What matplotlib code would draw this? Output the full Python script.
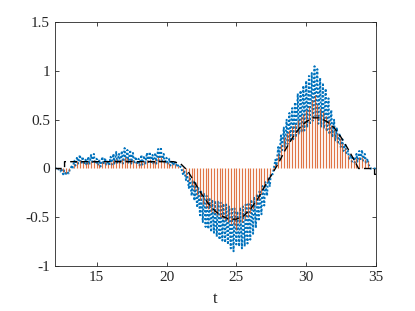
import numpy as np
import matplotlib
matplotlib.use("Agg")
import matplotlib.pyplot as plt

plt.rcParams['font.family'] = ['Liberation Serif', 'DejaVu Serif']
plt.rcParams['axes.unicode_minus'] = False

# sample times (0.2 spacing)
t = np.round(np.arange(12.0, 35.0001, 0.2), 2)

# stem values
stem_vals = [
    0.0, -0.01, -0.02, -0.04, -0.05, -0.03, 0.01, 0.05, 0.08, 0.09,
    0.08, 0.06, 0.07, 0.08, 0.09, 0.06, 0.05, 0.07, 0.07, 0.05,
    0.07, 0.09, 0.10, 0.09, 0.10, 0.12, 0.11, 0.10, 0.09, 0.07,
    0.06, 0.08, 0.08, 0.09, 0.10, 0.08, 0.10, 0.12, 0.12, 0.09,
    0.07, 0.06, 0.05, 0.05, 0.03, 0.01, -0.04, -0.08, -0.13, -0.17,
    -0.22, -0.27, -0.32, -0.36, -0.40, -0.42, -0.45, -0.46, -0.48, -0.50,
    -0.51, -0.53, -0.55, -0.57, -0.58, -0.63, -0.56, -0.55, -0.52, -0.50,
    -0.46, -0.42, -0.37, -0.32, -0.26, -0.20, -0.14, -0.07, -0.02, 0.05,
    0.15, 0.25, 0.32, 0.36, 0.40, 0.44, 0.46, 0.50, 0.53, 0.56,
    0.60, 0.64, 0.70, 0.75, 0.66, 0.62, 0.58, 0.54, 0.50, 0.45,
    0.40, 0.36, 0.31, 0.26, 0.21, 0.14, 0.10, 0.09, 0.11, 0.12,
    0.12, 0.10, 0.08, 0.0, 0.0, 0.0,
]

# blue oscillating estimate: outer and inner extremes
blue_outer = [
    0.0, 0.01, -0.03, -0.06, -0.07, -0.05, 0.02, 0.08, 0.12, 0.14,
    0.12, 0.09, 0.12, 0.14, 0.15, 0.10, 0.09, 0.12, 0.11, 0.08,
    0.12, 0.15, 0.17, 0.15, 0.18, 0.21, 0.19, 0.19, 0.16, 0.12,
    0.10, 0.14, 0.13, 0.16, 0.17, 0.14, 0.16, 0.20, 0.22, 0.15,
    0.11, 0.10, 0.08, 0.07, 0.05, 0.02, -0.07, -0.12, -0.20, -0.28,
    -0.33, -0.40, -0.48, -0.55, -0.60, -0.62, -0.65, -0.66, -0.70, -0.73,
    -0.74, -0.76, -0.78, -0.82, -0.85, -0.78, -0.80, -0.82, -0.80, -0.77,
    -0.73, -0.67, -0.61, -0.54, -0.47, -0.38, -0.28, -0.18, -0.06, 0.09,
    0.22, 0.34, 0.42, 0.50, 0.57, 0.62, 0.68, 0.77, 0.80, 0.85,
    0.90, 0.95, 0.98, 1.05, 1.02, 0.93, 0.88, 0.82, 0.72, 0.60,
    0.50, 0.42, 0.36, 0.30, 0.25, 0.18, 0.14, 0.12, 0.15, 0.18,
    0.19, 0.15, 0.10, 0.0, 0.0, 0.0,
]
blue_inner = [
    0.0, -0.01, 0.0, -0.02, -0.03, -0.01, 0.0, 0.03, 0.05, 0.05,
    0.04, 0.03, 0.04, 0.05, 0.05, 0.03, 0.02, 0.04, 0.04, 0.03,
    0.04, 0.05, 0.05, 0.05, 0.05, 0.06, 0.06, 0.05, 0.05, 0.04,
    0.03, 0.04, 0.04, 0.05, 0.05, 0.04, 0.05, 0.06, 0.06, 0.05,
    0.04, 0.03, 0.03, 0.03, 0.01, 0.0, -0.02, -0.05, -0.09, -0.12,
    -0.15, -0.19, -0.22, -0.25, -0.28, -0.30, -0.32, -0.33, -0.34, -0.35,
    -0.36, -0.37, -0.39, -0.40, -0.41, -0.44, -0.40, -0.39, -0.37, -0.35,
    -0.32, -0.29, -0.26, -0.22, -0.18, -0.14, -0.10, -0.05, -0.01, 0.03,
    0.10, 0.17, 0.22, 0.25, 0.28, 0.30, 0.32, 0.35, 0.37, 0.39,
    0.42, 0.45, 0.49, 0.52, 0.46, 0.43, 0.41, 0.38, 0.35, 0.32,
    0.28, 0.25, 0.22, 0.18, 0.15, 0.10, 0.07, 0.06, 0.07, 0.08,
    0.08, 0.06, 0.04, 0.0, 0.0, 0.0,
]

# black dashed reference
ref_t = [12.0, 12.7, 12.7, 20.5, 21.0, 21.5, 22.0, 22.5, 23.0, 23.5, 24.0, 24.5,
         25.0, 25.5, 26.0, 26.5, 27.0, 27.5, 28.0, 28.5, 29.0, 29.5, 30.0, 30.5,
         31.0, 31.5, 32.0, 32.5, 33.0, 33.5, 33.75, 34.9, 34.9, 35.0]
ref_v = [0.0, 0.0, 0.07, 0.07, 0.05, -0.02, -0.14, -0.26, -0.36, -0.44, -0.49, -0.52,
         -0.52, -0.49, -0.42, -0.32, -0.19, -0.07, 0.05, 0.19, 0.31, 0.41, 0.48, 0.52,
         0.52, 0.48, 0.42, 0.32, 0.20, 0.07, 0.0, 0.0, -0.06, -0.06]

xticks = [15, 20, 25, 30, 35]
yticks = [-1, -0.5, 0, 0.5, 1, 1.5]
ytick_labels = ['-1', '-0.5', '0', '0.5', '1', '1.5']

fig = plt.figure(figsize=(4.15, 3.11), dpi=100)
ax = fig.add_axes([0.132, 0.145, 0.774, 0.783])

tt = np.asarray(t)
bt = np.column_stack([tt, tt + 0.07]).ravel()
bv = np.column_stack([blue_outer, blue_inner]).ravel()
ax.plot(bt, bv, color='#0072BD', linewidth=1.4, dashes=(1.0, 1.0),
        solid_capstyle='butt', dash_capstyle='butt')
ax.vlines(tt, 0, stem_vals, color='#D95319', linewidth=0.85, alpha=0.8)
ax.plot(ref_t, ref_v, linestyle='--', color='black', linewidth=1.0, dashes=(5, 3))

ax.set_xlim(12, 35)
ax.set_ylim(-1, 1.5)
ax.set_xticks(xticks)
ax.set_xticklabels([str(v) for v in xticks])
ax.set_yticks(yticks)
ax.set_yticklabels(ytick_labels)
ax.tick_params(direction='in', top=True, right=True, length=3, width=0.6,
               colors='#262626', labelsize=11, labelcolor='#262626')
for sp in ax.spines.values():
    sp.set_color('#262626')
    sp.set_linewidth(0.6)
ax.set_xlabel('t', fontsize=12, color='#262626', labelpad=5)

fig.savefig('out.png', dpi=100)
